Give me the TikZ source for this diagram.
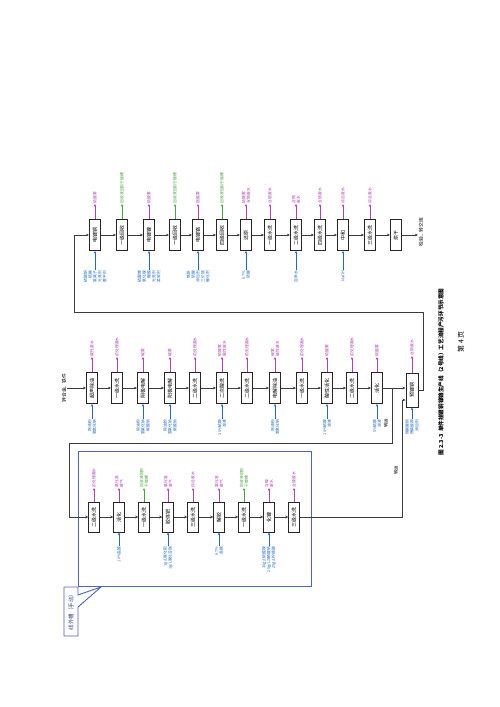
\documentclass[tikz,border=0pt]{standalone}
\usepackage{fontspec}
\newfontfamily\cjk{Noto Sans CJK SC}
\usetikzlibrary{arrows.meta}
\definecolor{mag}{RGB}{176,64,176}
\definecolor{grn}{RGB}{70,165,60}
\definecolor{blu}{RGB}{30,105,200}
\definecolor{frm}{RGB}{80,100,185}
\definecolor{ln}{RGB}{60,60,60}
\tikzset{
  pbox/.style={draw=black!85, line width=0.8pt, fill=white, rotate=90, minimum width=31pt, minimum height=11pt, inner sep=0.5pt, font=\cjk\fontsize{5}{5}\selectfont},
  olab/.style={rotate=90, anchor=west, inner sep=0.5pt, align=left, font=\cjk\fontsize{3.8}{4.8}\selectfont},
  ilab/.style={rotate=90, anchor=east, inner sep=0.5pt, align=right, text=blu, font=\cjk\fontsize{3.8}{4.8}\selectfont},
  oarr/.style={-{Stealth[length=2.8pt,width=2.4pt]}, line width=0.75pt},
  iarr/.style={-{Stealth[length=2.8pt,width=2.4pt]}, line width=0.75pt, draw=blu},
  flow/.style={draw=ln, line width=0.85pt, -{Stealth[length=3.2pt,width=2.6pt]}},
  wire/.style={draw=ln, line width=0.85pt},
  txt/.style={rotate=90, inner sep=0.5pt, font=\cjk\fontsize{4.8}{5}\selectfont}
}
\newcommand\myout[5]{\node[olab,text=#4] (o#1) at (#2,#3) {#5}; \draw[oarr,draw=#4] (#1.east) -- (o#1.west);}
\newcommand\myin[4]{\node[ilab] (i#1) at (#2,#3) {#4}; \draw[iarr] (i#1.east) -- (#1.west);}
\begin{document}
\begin{tikzpicture}[x=1pt,y=-1pt]
\useasboundingbox (0,0) rectangle (500,707);
\fill[white] (0,0) rectangle (500,707);

% ---------- row 1 ----------
\node[pbox] (b1) at (95,235) {电镀铜};
\node[pbox] (b2) at (122,235) {一级回收};
\node[pbox] (b3) at (149,235) {电镀镍};
\node[pbox] (b4) at (175,235) {一级回收};
\node[pbox] (b5) at (198,235) {电镀铬};
\node[pbox] (b6) at (222,235) {四级回收};
\node[pbox] (b7) at (246,235) {还原};
\node[pbox] (b8) at (270,235) {一级水洗};
\node[pbox] (b9) at (296,235) {二级水洗};
\node[pbox] (b10) at (320,235) {四级水洗};
\node[pbox] (b11) at (343,235) {中和};
\node[pbox] (b12) at (370,235) {三级水洗};
\node[pbox] (b13) at (396,235) {烘干};
\foreach \i in {1,...,12}{\pgfmathtruncatemacro\j{\i+1}\draw[flow] (b\i.south) -- (b\j.north);}
\node[txt] (dst) at (421,232) {检验、转交库};
\draw[flow] (b13.south) -- (dst.north |- b13.south);

\myout{b1}{95}{204}{mag}{硫酸雾}
\myout{b2}{122}{204}{grn}{回收液回用于镀槽}
\myout{b3}{149}{204}{mag}{硫酸雾}
\myout{b4}{175}{204}{grn}{回收液回用于镀槽}
\myout{b5}{198}{204}{mag}{铬酸雾}
\myout{b6}{222}{204}{grn}{回收液回用于镀槽}
\myout{b7}{246}{204}{mag}{硫酸雾\\含铬废水}
\myout{b8}{270}{204}{mag}{含铬废水}
\myout{b9}{296}{204}{mag}{含铬\\废水}
\myout{b10}{320}{204}{mag}{含铬废水}
\myout{b11}{343}{204}{mag}{综合废水}
\myout{b12}{370}{204}{mag}{综合废水}

\myin{b1}{95}{270}{硫酸铜\\硫酸\\氯离子\\光亮剂\\整平剂}
\myin{b3}{149}{270}{硫酸镍\\氯化镍\\硼酸\\光亮剂\\柔软剂}
\myin{b5}{198}{270}{铬酐\\硫酸\\添加剂\\三价铬\\催化剂}
\myin{b7}{246}{270}{6.7\%\\硫酸}
\myin{b9}{296}{270}{自来水}
\myin{b11}{343}{270}{NaOH}

% ---------- row 2 ----------
\node[txt] (src) at (64,388) {锌合金、铁件};
\node[pbox] (c1) at (92,388) {超声除油};
\node[pbox] (c2) at (117,388) {一级水洗};
\node[pbox] (c3) at (143,388) {阴极电解};
\node[pbox] (c4) at (170,388) {阳极电解};
\node[pbox] (c5) at (195,388) {二级水洗};
\node[pbox] (c6) at (222,388) {二次酸洗};
\node[pbox] (c7) at (247,388) {二级水洗};
\node[pbox] (c8) at (275,388) {电解除油};
\node[pbox] (c9) at (302,388) {一级水洗};
\node[pbox] (c10) at (327,388) {酸性活化};
\node[pbox] (c11) at (352,388) {二级水洗};
\node[pbox] (c12) at (377,388) {活化};
\node[pbox, minimum width=34pt, minimum height=12pt] (c13) at (412,390) {预镀铜};
\draw[flow] (src.south) -- (c1.north);
\foreach \i in {1,...,11}{\pgfmathtruncatemacro\j{\i+1}\draw[flow] (c\i.south) -- (c\j.north);}
\draw[flow] (c12.south) -- (c13.north |- c12.south);

\myout{c1}{92}{357}{mag}{碱性废水}
\myout{c2}{117}{357}{mag}{前处理废水}
\myout{c3}{143}{357}{mag}{碱雾}
\myout{c4}{170}{357}{mag}{碱雾}
\myout{c5}{195}{357}{mag}{前处理废水}
\myout{c6}{222}{357}{mag}{硫酸雾\\酸性废水}
\myout{c7}{247}{357}{mag}{前处理废水}
\myout{c8}{275}{357}{mag}{碱雾\\碱性废水}
\myout{c9}{302}{357}{mag}{前处理废水}
\myout{c10}{327}{357}{mag}{硫酸雾}
\myout{c11}{352}{357}{mag}{前处理废水}
\myout{c12}{377}{357}{mag}{硫酸雾}
\myout{c13}{412}{356}{mag}{含铜废水}

\myin{c1}{92}{419}{除油粉\\氢氧化钠}
\myin{c3}{143}{419}{除油粉\\氢氧化钠\\碳酸钠}
\myin{c4}{170}{419}{除油粉\\氢氧化钠\\碳酸钠}
\myin{c6}{222}{419}{10\%硫酸\\溶液}
\myin{c8}{275}{419}{除油粉\\氢氧化钠}
\myin{c10}{327}{419}{10\%硫酸\\溶液}
\myin{c12}{377}{419}{5\%硫酸\\溶液}
\myin{c13}{412}{419}{焦磷酸铜\\焦磷酸钾\\添加剂}

% return from row 2 to row 1
\coordinate (k1) at (423,390);
\coordinate (k2) at (423,312);
\coordinate (k3) at (74,312);
\coordinate (k4) at (74,235);
\draw[flow] (c13.south) -- (k1) -- (k2) -- (k3) -- (k4) -- (b1.north);

% branch to row 3
\coordinate (j1) at (392,388);
\coordinate (j2) at (392,443);
\coordinate (j3) at (69,443);
\coordinate (j4) at (69,517);
\node[txt, font=\cjk\fontsize{4.4}{5}\selectfont] (t1) at (386,423) {转运};

% ---------- row 3 ----------
\draw[frm, line width=0.9pt] (78,451) rectangle (311,586);
\node[pbox, minimum width=30pt, minimum height=10.5pt] (d1) at (94,517) {二级水洗};
\node[pbox, minimum width=30pt, minimum height=10.5pt] (d2) at (119,517) {活化};
\node[pbox, minimum width=30pt, minimum height=10.5pt] (d3) at (144,517) {一级水洗};
\node[pbox, minimum width=30pt, minimum height=10.5pt] (d4) at (168,517) {胶体钯};
\node[pbox, minimum width=30pt, minimum height=10.5pt] (d5) at (193,517) {三级水洗};
\node[pbox, minimum width=30pt, minimum height=10.5pt] (d6) at (219,517) {解胶};
\node[pbox, minimum width=30pt, minimum height=10.5pt] (d7) at (244,517) {一级水洗};
\node[pbox, minimum width=30pt, minimum height=10.5pt] (d8) at (269,517) {化镍};
\node[pbox, minimum width=30pt, minimum height=10.5pt] (d9) at (294,517) {三级水洗};
\draw[wire] (j1) -- (j2) -- (j3) -- (j4);
\draw[flow] (j4) -- (d1.north);
\foreach \i in {1,...,8}{\pgfmathtruncatemacro\j{\i+1}\draw[flow] (d\i.south) -- (d\j.north);}
\coordinate (m1) at (402,517);
\coordinate (m2) at (402,400);
\draw[flow] (d9.south) -- (m1) -- (m2) -- (c13.north |- m2);
\node[txt, font=\cjk\fontsize{4.4}{5}\selectfont] (t2) at (396,470) {转运};

\myout{d1}{94}{488}{mag}{前处理废水}
\myout{d2}{119}{488}{mag}{氯化氢\\废气}
\myout{d3}{144}{488}{grn}{回收液回用\\于镀槽}
\myout{d4}{168}{488}{mag}{氯化氢\\废气}
\myout{d5}{193}{488}{mag}{综合废水}
\myout{d6}{219}{488}{mag}{氯化氢\\废气}
\myout{d7}{244}{488}{grn}{回收液回用\\于镀槽}
\myout{d8}{269}{488}{mag}{含镍\\废水}
\myout{d9}{294}{488}{mag}{含镍废水}

\myin{d2}{119}{546}{10\%盐酸}
\myin{d4}{168}{546}{1g/L氯化钯\\1g/L氯化亚锡}
\myin{d6}{219}{546}{6.7\%\\盐酸}
\myin{d8}{269}{546}{30g/L硫酸镍\\20g/L次磷酸钠\\20g/L柠檬酸}

% callout
\draw[frm, line width=0.9pt, fill=white] (64,587) -- (78,587) -- (78,595) -- (101,587) -- (78,607) -- (78,636) -- (64,636) -- cycle;
\node[txt, font=\cjk\fontsize{5.5}{6}\selectfont, text=frm!70!black] (call) at (71,611) {线外槽（手动）};

% caption
\node[txt, font=\cjk\bfseries\fontsize{5.6}{6}\selectfont] (cap) at (441,372) {图 2.3-3\ \ 单件挂镀铜镍铬生产线（2号线）工艺流程产污环节示意图};
\node[txt, font=\cjk\fontsize{7}{8}\selectfont] (pg) at (461,342) {第 4 页};
\end{tikzpicture}
\end{document}
